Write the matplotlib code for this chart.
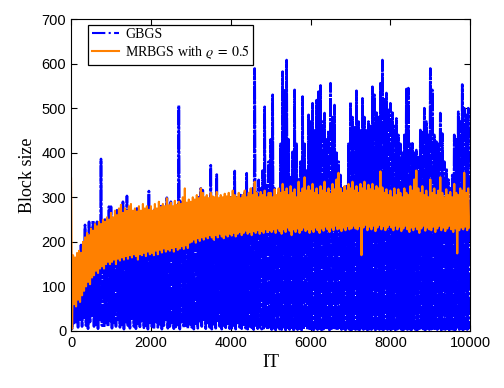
import matplotlib.pyplot as plt
import numpy as np

plt.rcParams['mathtext.fontset'] = 'stix'

# iteration grid: peaks at every 50 IT, troughs in between
it_step = 25

# GBGS peak values, one row per 1000 IT (every 50 IT)
gbgs_hi = [
    60, 90, 110, 120, 150, 193, 170, 238, 200, 245, 230, 248, 240, 245, 235, 386, 230, 250, 240, 279,
    279, 240, 250, 271, 245, 255, 290, 250, 303, 255, 260, 250, 265, 275, 255, 260, 250, 265, 255, 314,
    270, 260, 275, 265, 270, 280, 265, 275, 299, 270, 290, 265, 275, 270, 506, 290, 275, 285, 275, 280,
    285, 275, 290, 280, 300, 320, 316, 290, 300, 285, 372, 300, 290, 351, 295, 290, 285, 298, 290, 295,
    300, 290, 359, 300, 295, 305, 300, 310, 354, 305, 300, 320, 589, 310, 339, 320, 360, 503, 330, 380,
    430, 530, 320, 300, 310, 420, 582, 540, 608, 430, 345, 402, 541, 420, 340, 380, 526, 420, 360, 485,
    470, 511, 450, 518, 537, 551, 470, 489, 430, 450, 556, 480, 507, 400, 380, 350, 320, 310, 325, 420,
    513, 480, 460, 539, 470, 450, 522, 480, 450, 470, 460, 548, 530, 490, 480, 556, 608, 520, 534, 500,
    511, 490, 460, 477, 440, 420, 400, 440, 543, 545, 420, 421, 400, 406, 390, 451, 450, 500, 470, 440,
    589, 541, 440, 425, 420, 489, 443, 380, 365, 340, 320, 350, 440, 430, 492, 470, 553, 500, 485, 500,
]
# GBGS trough values (25 IT after each peak)
gbgs_lo = [
    5, 15, 20, 8, 25, 10, 30, 12, 5, 20, 35, 10, 15, 5, 25, 12, 8, 18, 10, 22,
    6, 18, 10, 25, 8, 14, 4, 20, 12, 6, 28, 10, 5, 16, 9, 22, 7, 12, 4, 18,
    10, 5, 20, 8, 15, 4, 12, 25, 6, 10, 18, 5, 9, 14, 4, 20, 8, 12, 6, 15,
    8, 4, 12, 6, 22, 10, 25, 5, 18, 8, 4, 15, 6, 20, 10, 4, 12, 7, 16, 5,
    6, 12, 4, 18, 8, 5, 14, 6, 4, 10, 7, 3, 12, 5, 8, 4, 6, 10, 3, 5,
    3, 6, 2, 8, 4, 3, 5, 2, 7, 3, 4, 2, 6, 3, 5, 2, 4, 8, 3, 5,
    4, 2, 6, 3, 5, 2, 4, 7, 3, 2, 5, 3, 6, 2, 4, 3, 5, 2, 6, 3,
    2, 5, 3, 4, 2, 6, 3, 5, 2, 4, 3, 6, 2, 5, 3, 4, 2, 5, 3, 4,
    3, 5, 2, 4, 6, 3, 2, 5, 3, 4, 2, 6, 3, 2, 5, 3, 4, 2, 5, 3,
    4, 2, 5, 3, 6, 2, 4, 3, 5, 2, 4, 3, 2, 5, 3, 4, 2, 5, 3, 4,
]

# MRBGS (rho = 0.5) upper values, every 50 IT
mrbgs_hi = [
    342, 170, 165, 175, 180, 175, 200, 210, 220, 215, 230, 225, 240, 235, 245, 240, 250, 245, 255, 250,
    265, 255, 270, 260, 275, 283, 265, 275, 270, 280, 285, 270, 275, 268, 280, 270, 285, 275, 280, 272,
    280, 270, 285, 275, 290, 278, 285, 280, 298, 282, 288, 280, 292, 283, 290, 285, 300, 320, 288, 295,
    290, 300, 295, 305, 298, 320, 310, 300, 305, 298, 310, 302, 300, 312, 298, 305, 300, 308, 302, 310,
    300, 315, 305, 300, 310, 298, 305, 315, 300, 310, 320, 305, 335, 310, 300, 312, 305, 315, 300, 310,
    310, 300, 318, 305, 320, 310, 330, 312, 320, 305, 325, 310, 318, 300, 335, 310, 320, 345, 315, 325,
    315, 330, 310, 320, 305, 325, 315, 335, 310, 320, 308, 330, 318, 340, 355, 320, 310, 325, 315, 330,
    320, 335, 315, 325, 310, 330, 320, 335, 315, 328, 318, 330, 315, 325, 320, 358, 322, 310, 318, 305,
    315, 300, 320, 305, 318, 310, 300, 320, 310, 305, 325, 315, 340, 360, 320, 310, 325, 305, 315, 300,
    340, 310, 320, 305, 315, 345, 310, 300, 318, 305, 312, 300, 330, 310, 305, 320, 315, 355, 310, 320,
]
# MRBGS lower values (25 IT after each upper value)
mrbgs_lo = [
    5, 60, 55, 70, 65, 80, 90, 100, 110, 105, 120, 125, 135, 130, 140, 145, 140, 150, 155, 150,
    155, 160, 150, 162, 158, 165, 160, 168, 162, 170, 165, 172, 168, 160, 172, 170, 175, 168, 178, 172,
    175, 170, 180, 172, 182, 176, 185, 178, 183, 180, 186, 178, 188, 182, 185, 190, 184, 192, 186, 198,
    200, 205, 198, 208, 202, 210, 205, 212, 208, 215, 210, 205, 215, 210, 218, 212, 208, 216, 212, 218,
    214, 220, 212, 218, 222, 215, 220, 225, 218, 222, 215, 224, 220, 226, 218, 224, 220, 228, 222, 226,
    222, 228, 220, 230, 224, 218, 228, 222, 232, 225, 215, 228, 222, 230, 220, 226, 232, 224, 228, 220,
    228, 222, 232, 226, 220, 230, 225, 234, 228, 222, 232, 226, 236, 228, 230, 224, 232, 226, 235, 228,
    230, 236, 230, 228, 235, 170, 232, 238, 226, 234, 228, 236, 224, 232, 238, 228, 235, 226, 232, 238,
    232, 226, 236, 228, 234, 224, 230, 236, 228, 222, 232, 226, 234, 228, 220, 230, 236, 225, 232, 228,
    226, 234, 222, 230, 236, 226, 232, 224, 230, 236, 228, 222, 230, 174, 226, 232, 228, 234, 226, 232,
]

n = len(gbgs_hi)
it = np.arange(2 * n) * it_step
gbgs = np.empty(2 * n)
gbgs[0::2] = gbgs_hi
gbgs[1::2] = gbgs_lo
mrbgs = np.empty(2 * n)
mrbgs[0::2] = mrbgs_hi
mrbgs[1::2] = mrbgs_lo

fig = plt.figure(figsize=(5.04, 3.88), dpi=100)
ax = fig.add_axes([0.141, 0.147, 0.792, 0.804])

ax.plot(it, gbgs, '-.', color='#0000FF', lw=1.9, dashes=(7, 0.5, 1.2, 0.5), label='GBGS')
ax.plot(it, mrbgs, '-', color='#FF8000', lw=1.5, label=r'MRBGS with $\varrho\;=\;0.5$')

ax.set_xlim(0, 10000)
ax.set_ylim(0, 700)
ax.set_xticks(np.arange(0, 10001, 2000))
ax.set_yticks(np.arange(0, 701, 100))
ax.tick_params(direction='in', top=True, right=True, length=4, labelsize=10.5)
for lab in ax.get_xticklabels() + ax.get_yticklabels():
    lab.set_fontfamily('Liberation Sans')

ax.set_xlabel('IT', fontsize=13, family='Liberation Serif', labelpad=3)
ax.set_ylabel('Block size', fontsize=13, family='Liberation Serif', labelpad=4)

leg = ax.legend(loc='upper left', bbox_to_anchor=(0.043, 0.982), borderaxespad=0,
                prop={'family': 'Liberation Serif', 'size': 10}, fancybox=False,
                framealpha=1, edgecolor='black', handlelength=2.0, labelspacing=0.15,
                borderpad=0.25, handletextpad=0.4)
leg.get_frame().set_linewidth(0.9)
# show the legend sample with the plain dash-dot pattern
leg.get_lines()[0].set_linestyle('-.')
leg.get_lines()[0].set_linewidth(1.5)

fig.savefig('out.png', dpi=100)
